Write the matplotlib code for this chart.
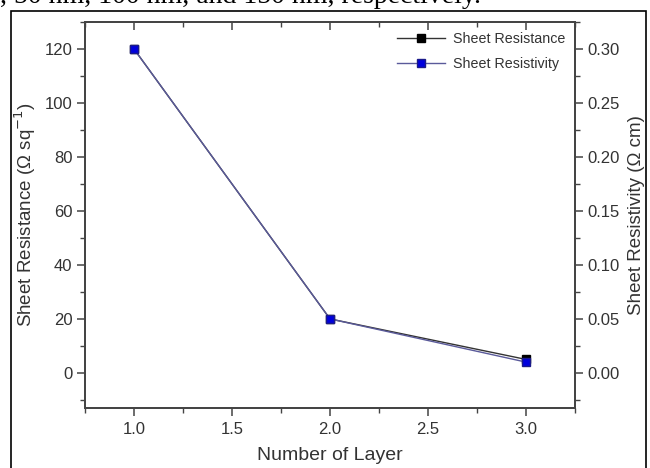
import matplotlib
matplotlib.use("Agg")
import matplotlib.pyplot as plt
from matplotlib.patches import Rectangle
from matplotlib.ticker import MultipleLocator, FormatStrFormatter

layers = [1.0, 2.0, 3.0]
sheet_resistance = [120, 20, 5]
sheet_resistivity = [0.30, 0.05, 0.01]

plt.rcParams['font.family'] = ['Liberation Sans', 'DejaVu Sans']

fig = plt.figure(figsize=(6.5, 4.68), dpi=100)
ax = fig.add_axes([85/650, 1-408/468, (575-85)/650, (408-22)/468])
ax2 = ax.twinx()

l1, = ax.plot(layers, sheet_resistance, color='#333333', lw=1.0, marker='s',
              markersize=6, markerfacecolor='black', markeredgecolor='black',
              label='Sheet Resistance')
l2, = ax2.plot(layers, sheet_resistivity, color='#5a5a9a', lw=1.0, marker='s',
               markersize=6, markerfacecolor='#0000dd', markeredgecolor='#1a1a8a',
               label='Sheet Resistivity')

ax.set_xlim(0.75, 3.25)
ax.set_ylim(-13, 130)
ax2.set_ylim(-0.0325, 0.325)

ax.xaxis.set_major_locator(MultipleLocator(0.5))
ax.xaxis.set_minor_locator(MultipleLocator(0.25))
ax.yaxis.set_major_locator(MultipleLocator(20))
ax.yaxis.set_minor_locator(MultipleLocator(10))
ax2.yaxis.set_major_locator(MultipleLocator(0.05))
ax2.yaxis.set_minor_locator(MultipleLocator(0.025))
ax.xaxis.set_major_formatter(FormatStrFormatter('%.1f'))
ax2.yaxis.set_major_formatter(FormatStrFormatter('%.2f'))

tc = '#333333'
fs_tick = 12
for a in (ax, ax2):
    for s in a.spines.values():
        s.set_color('#444444')
        s.set_linewidth(1.3)
ax.tick_params(axis='x', which='major', direction='out', length=6, width=1.1,
               labelsize=fs_tick, colors='#444444', labelcolor=tc, top=True, pad=4)
ax.tick_params(axis='x', which='minor', direction='out', length=3.5, width=1.0,
               colors='#444444', top=True)
ax.tick_params(axis='y', which='major', direction='out', length=6, width=1.1,
               labelsize=fs_tick, colors='#444444', labelcolor=tc, pad=3)
ax.tick_params(axis='y', which='minor', direction='out', length=3.5, width=1.0,
               colors='#444444')
ax2.tick_params(axis='y', which='major', direction='out', length=6, width=1.1,
                labelsize=fs_tick, colors='#444444', labelcolor=tc, pad=3)
ax2.tick_params(axis='y', which='minor', direction='out', length=3.5, width=1.0,
                colors='#444444')
# top ticks pointing inward
for t in ax.xaxis.get_major_ticks():
    t.tick2line.set_marker(3)
    t.tick2line.set_markersize(6)
for t in ax.xaxis.get_minor_ticks():
    t.tick2line.set_marker(3)
    t.tick2line.set_markersize(3.5)

ax.set_xlabel('Number of Layer', fontsize=14, color=tc, labelpad=7)
ax.set_ylabel('Sheet Resistance (\u03a9 sq$^{-1}$)', fontsize=13.5, color=tc, labelpad=5)
ax2.set_ylabel('Sheet Resistivity (\u03a9 cm)', fontsize=13.5, color=tc,
               rotation=90, labelpad=6)

leg = ax.legend(handles=[l1, l2], loc='upper right', frameon=False, fontsize=10.3,
                handlelength=3.4, borderaxespad=0.3, labelspacing=0.75,
                handletextpad=0.5)
for t in leg.get_texts():
    t.set_color(tc)

# surrounding page elements
fig.patches.append(Rectangle((11/650, -0.1), (646-11)/650, 1.1 - 11/468,
                             transform=fig.transFigure, fill=False,
                             edgecolor='black', linewidth=1.2))
fig.text(0.0, 1 - 3/468, ', 50 nm, 100 nm, and 150 nm, respectively.',
         family='Liberation Serif', fontsize=20, ha='left', va='baseline',
         color='black')

fig.savefig('out.png', dpi=100)
